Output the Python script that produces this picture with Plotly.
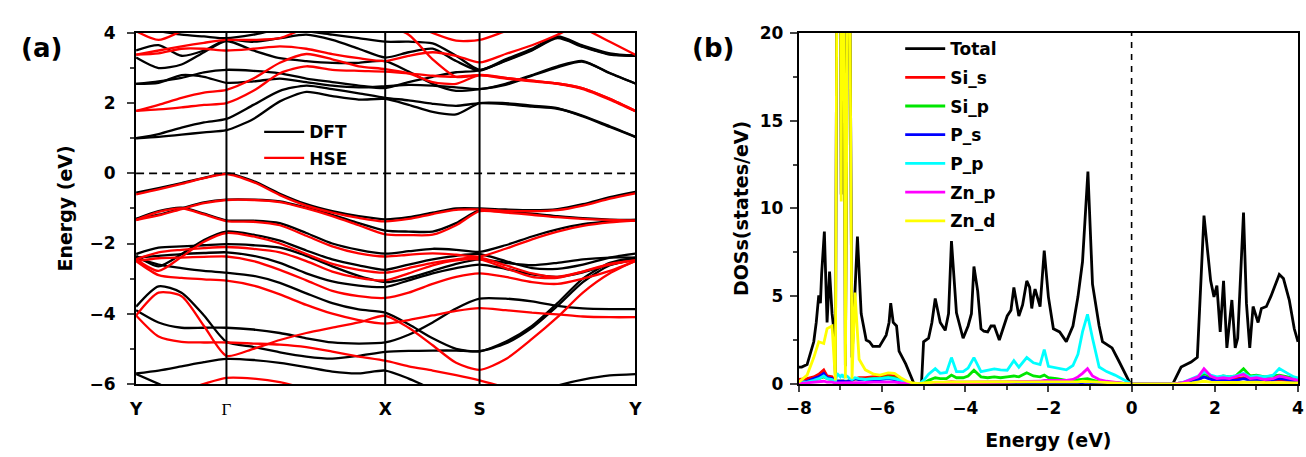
import plotly.graph_objects as go

# ---------------- (a) band structure ----------------
K_LABELS = ["Y", "<span style='font-family:Liberation Serif;font-weight:normal'>Γ</span>", "X", "S", "Y"]
K_NODES = [0.0, 0.181, 0.499, 0.688, 1.0]
K_PATH = [0.000, 0.045, 0.091, 0.136, 0.181,
          0.235, 0.288, 0.341, 0.393, 0.446, 0.499,
          0.546, 0.594, 0.641, 0.688,
          0.740, 0.793, 0.844, 0.895, 0.949, 1.000]

# DFT bands (eV) along Y-Γ-X-S-Y
DFT_V1 = [-0.55, -0.42, -0.28, -0.13, 0.00, -0.22, -0.58, -0.88, -1.08, -1.22, -1.31, -1.25, -1.12, -1.00, -1.00, -1.03, -1.05, -1.02, -0.88, -0.68, -0.53]
DFT_V2 = [-1.30, -1.18, -1.00, -0.83, -0.75, -0.75, -0.80, -0.98, -1.18, -1.42, -1.63, -1.66, -1.66, -1.42, -1.05, -1.10, -1.15, -1.22, -1.28, -1.32, -1.33]
DFT_V3 = [-1.30, -1.08, -0.98, -1.15, -1.34, -1.35, -1.42, -1.70, -2.00, -2.18, -2.29, -2.22, -2.15, -2.18, -2.24, -2.05, -1.80, -1.60, -1.45, -1.37, -1.33]
DFT_V4 = [-2.35, -2.65, -2.30, -1.90, -1.66, -1.75, -1.92, -2.20, -2.45, -2.62, -2.75, -2.60, -2.45, -2.35, -2.30, -2.50, -2.70, -2.72, -2.60, -2.40, -2.29]
DFT_V5 = [-2.30, -2.12, -2.08, -2.05, -2.02, -2.05, -2.12, -2.35, -2.65, -2.92, -3.10, -2.98, -2.78, -2.58, -2.45, -2.55, -2.62, -2.55, -2.45, -2.40, -2.40]
DFT_V6 = [-2.40, -2.35, -2.30, -2.27, -2.25, -2.35, -2.55, -2.85, -3.08, -3.20, -3.24, -3.05, -2.85, -2.70, -2.60, -2.72, -2.88, -2.95, -2.82, -2.60, -2.45]
DFT_V7 = [-2.40, -2.60, -2.70, -2.78, -2.83, -2.92, -3.12, -3.42, -3.70, -3.88, -3.97, -4.30, -4.70, -5.00, -5.07, -4.80, -4.35, -3.70, -3.00, -2.55, -2.40]
DFT_V8 = [-3.80, -3.22, -3.40, -4.05, -4.80, -4.95, -5.10, -5.22, -5.28, -5.20, -5.09, -5.06, -5.05, -5.05, -5.07, -4.85, -4.40, -3.78, -3.10, -2.62, -2.45]
DFT_V9 = [-3.90, -4.25, -4.40, -4.40, -4.40, -4.45, -4.55, -4.70, -4.82, -4.85, -4.82, -4.60, -4.25, -3.85, -3.57, -3.57, -3.65, -3.78, -3.85, -3.87, -3.87]
DFT_V10 = [-5.70, -5.62, -5.50, -5.38, -5.29, -5.32, -5.40, -5.52, -5.65, -5.70, -5.62, -5.85, -6.15, -6.40, -6.50, -6.45, -6.30, -6.05, -5.88, -5.76, -5.72]
DFT_V11 = [-5.72, -6.00, -6.30, -6.50, -6.60, None, None, None, None, None, None, None, None, None, None, None, None, None, None, None, None]
DFT_C1 = [1.00, 1.04, 1.10, 1.17, 1.23, 1.55, 2.05, 2.32, 2.20, 2.10, 2.12, 1.95, 1.75, 1.68, 2.00, 2.00, 1.93, 1.86, 1.62, 1.32, 1.04]
DFT_C2 = [1.00, 1.12, 1.30, 1.45, 1.55, 1.95, 2.35, 2.50, 2.40, 2.28, 2.15, 2.08, 1.98, 1.92, 2.00, 1.97, 1.90, 1.84, 1.64, 1.34, 1.04]
DFT_C3 = [2.55, 2.58, 2.80, 2.75, 2.58, 2.62, 2.70, 2.60, 2.50, 2.45, 2.48, 2.52, 2.50, 2.45, 2.40, 2.55, 2.80, 3.05, 3.20, 2.85, 2.56]
DFT_C4 = [2.55, 2.62, 2.72, 2.88, 2.95, 2.92, 2.85, 2.70, 2.60, 2.50, 2.43, 2.60, 2.75, 2.88, 2.93, 3.20, 3.50, 3.85, 3.60, 3.38, 3.35]
DFT_C5 = [3.30, 3.00, 3.10, 3.45, 3.77, 3.50, 3.28, 3.20, 3.15, 3.15, 3.20, 2.90, 2.55, 2.35, 2.40, 2.52, 2.78, 3.02, 3.18, 2.86, 2.56]
DFT_C6 = [3.50, 3.65, 3.35, 3.50, 3.80, 3.75, 3.85, 3.95, 3.80, 3.55, 3.30, 3.45, 3.55, 3.20, 2.93, 3.22, 3.52, 3.88, 3.62, 3.40, 3.35]
DFT_C7 = [4.10, 4.05, 3.95, 3.90, 3.85, 3.95, 4.10, 4.05, 3.95, 3.85, 3.75, 3.75, 3.70, 3.35, 2.95, 3.25, 3.55, 3.90, 3.64, 3.42, 3.35]

# HSE bands (eV) along Y-Γ-X-S-Y
HSE_V1 = [-0.60, -0.46, -0.30, -0.14, -0.02, -0.25, -0.62, -0.92, -1.12, -1.27, -1.37, -1.30, -1.16, -1.04, -1.03, -1.07, -1.08, -1.05, -0.92, -0.72, -0.57]
HSE_V2 = [-1.33, -1.20, -1.02, -0.85, -0.76, -0.76, -0.82, -1.00, -1.22, -1.48, -1.74, -1.76, -1.75, -1.48, -1.08, -1.12, -1.18, -1.25, -1.30, -1.33, -1.35]
HSE_V3 = [-1.33, -1.10, -1.00, -1.17, -1.36, -1.38, -1.48, -1.78, -2.08, -2.28, -2.37, -2.32, -2.28, -2.32, -2.37, -2.15, -1.88, -1.66, -1.50, -1.40, -1.35]
HSE_V4 = [-2.45, -2.78, -2.38, -1.95, -1.70, -1.80, -2.00, -2.30, -2.58, -2.75, -2.83, -2.70, -2.55, -2.45, -2.40, -2.62, -2.85, -2.95, -2.80, -2.60, -2.48]
HSE_V5 = [-2.45, -2.25, -2.18, -2.13, -2.10, -2.15, -2.25, -2.50, -2.80, -2.98, -3.05, -2.85, -2.62, -2.48, -2.45, -2.70, -2.95, -2.98, -2.80, -2.58, -2.48]
HSE_V6 = [-2.50, -2.42, -2.40, -2.38, -2.37, -2.50, -2.75, -3.05, -3.35, -3.50, -3.55, -3.40, -3.15, -2.95, -2.85, -2.95, -3.10, -3.15, -3.00, -2.78, -2.50]
HSE_V7 = [-2.50, -2.90, -2.98, -3.02, -3.06, -3.20, -3.45, -3.75, -4.00, -4.18, -4.28, -4.18, -4.05, -3.92, -3.84, -3.90, -3.97, -4.02, -4.08, -4.10, -4.10]
HSE_V8 = [-4.05, -3.40, -3.50, -4.35, -5.20, -5.00, -4.75, -4.55, -4.40, -4.25, -4.06, -4.40, -4.90, -5.40, -5.60, -5.30, -4.72, -4.10, -3.40, -2.85, -2.50]
HSE_V9 = [-4.05, -4.65, -4.80, -4.82, -4.82, -4.85, -4.88, -4.95, -5.08, -5.22, -5.34, -5.50, -5.62, -5.75, -5.90, -6.10, -6.30, -6.40, -6.40, -6.40, -6.40]
HSE_V10 = [-6.60, -6.40, -6.20, -6.00, -5.83, -5.85, -5.95, -6.15, -6.40, None, None, None, None, None, None, None, None, None, None, None, None]
HSE_C1 = [1.78, 1.82, 1.88, 1.95, 2.00, 2.35, 2.85, 3.05, 2.95, 2.92, 2.90, 2.85, 2.78, 2.75, 2.80, 2.70, 2.62, 2.55, 2.40, 2.10, 1.77]
HSE_C2 = [1.78, 1.95, 2.15, 2.30, 2.38, 2.70, 3.15, 3.40, 3.25, 3.05, 2.97, 2.85, 2.60, 2.55, 2.80, 2.72, 2.64, 2.56, 2.42, 2.12, 1.78]
HSE_C3 = [3.38, 3.42, 3.55, 3.55, 3.50, 3.55, 3.62, 3.55, 3.40, 3.28, 3.20, 3.35, 3.45, 3.35, 3.16, 3.40, 3.65, 3.95, 4.30, 4.60, 4.80]
HSE_C4 = [3.38, 3.50, 3.62, 3.72, 3.80, 3.80, 3.85, 4.15, 4.35, 4.30, 4.20, 3.95, 3.25, 2.75, 2.80, 2.72, 2.64, 2.56, 2.42, 2.12, 1.78]
HSE_C5 = [4.05, 3.80, 4.05, 4.30, 4.50, 4.60, 4.60, 4.60, 4.60, 4.60, 4.60, 4.30, 4.00, 3.78, 3.80, 4.05, 4.30, 4.60, 4.15, 3.75, 3.38]

DFT_BANDS = [DFT_V1, DFT_V2, DFT_V3, DFT_V4, DFT_V5, DFT_V6, DFT_V7, DFT_V8, DFT_V9,
             DFT_V10, DFT_V11, DFT_C1, DFT_C2, DFT_C3, DFT_C4, DFT_C5, DFT_C6, DFT_C7]
HSE_BANDS = [HSE_V1, HSE_V2, HSE_V3, HSE_V4, HSE_V5, HSE_V6, HSE_V7, HSE_V8, HSE_V9,
             HSE_V10, HSE_C1, HSE_C2, HSE_C3, HSE_C4, HSE_C5]

# ---------------- (b) density of states ----------------
E_TOT = [-8.00, -7.93, -7.80, -7.70, -7.64, -7.58, -7.52, -7.48, -7.45, -7.385,
         -7.32, -7.26, -7.20, -7.16, -7.12, -7.08, -7.00, -6.98, -6.96, -6.92,
         -6.88, -6.82, -6.78, -6.72, -6.59, -6.50, -6.38, -6.30, -6.22, -6.06,
         -5.95, -5.90, -5.83, -5.79, -5.73, -5.65, -5.59, -5.43, -5.23, -5.05,
         -5.00, -4.88, -4.80, -4.72, -4.60, -4.48, -4.40, -4.33, -4.21, -4.05,
         -3.93, -3.85, -3.79, -3.70, -3.62, -3.55, -3.46, -3.38, -3.30, -3.18,
         -2.99, -2.90, -2.83, -2.71, -2.62, -2.52, -2.45, -2.40, -2.36, -2.32,
         -2.20, -2.10, -2.00, -1.88, -1.73, -1.57, -1.41, -1.29, -1.18, -1.05,
         -0.94, -0.78, -0.70, -0.47, -0.31, -0.03, 0.99, 1.19, 1.43, 1.58,
         1.74, 1.90, 1.98, 2.05, 2.13, 2.21, 2.29, 2.41, 2.49, 2.55,
         2.69, 2.76, 2.84, 2.92, 3.04, 3.12, 3.24, 3.35, 3.55, 3.65,
         3.79, 3.91, 4.00]
DOS_TOTAL = [0.96, 0.96, 1.10, 2.00, 2.40, 3.50, 5.05, 4.60, 6.30, 8.68,
             3.50, 6.40, 4.00, 3.15, 0.50, 26.0, 26.0, 10.8, 26.0, 26.0,
             1.00, 26.0, 26.0, 1.50, 8.40, 4.00, 2.50, 2.40, 2.14, 2.14,
             2.60, 2.78, 3.50, 4.60, 3.50, 3.30, 1.87, 1.14, 0.00, 0.00,
             2.40, 2.60, 3.50, 4.87, 3.50, 3.05, 4.00, 8.14, 4.05, 2.60,
             3.30, 4.00, 6.69, 5.30, 3.14, 3.00, 2.96, 3.30, 3.30, 2.50,
             3.87, 4.20, 5.50, 3.87, 4.50, 5.87, 5.50, 4.30, 4.96, 5.40,
             4.40, 7.60, 4.96, 3.14, 2.96, 2.41, 3.30, 4.96, 6.96, 12.10,
             5.68, 3.30, 2.41, 2.05, 1.32, 0.00, 0.00, 0.96, 1.24, 1.51,
             9.59, 5.87, 4.96, 5.60, 2.96, 5.87, 2.05, 4.78, 2.05, 2.60,
             9.77, 4.60, 2.05, 4.41, 3.50, 4.30, 4.41, 5.00, 6.23, 6.00,
             4.78, 3.14, 2.40]

E_PDOS = [-8.00, -7.80, -7.64, -7.52, -7.40, -7.32, -7.20, -7.12, -7.08, -7.00,
          -6.98, -6.96, -6.92, -6.88, -6.82, -6.78, -6.72, -6.65, -6.55, -6.40,
          -6.20, -6.05, -5.85, -5.70, -5.55, -5.40, -5.25, -5.10,
          -5.00, -4.88, -4.72, -4.60, -4.45, -4.33, -4.21, -4.05, -3.93, -3.79,
          -3.62, -3.46, -3.30, -3.15, -2.99, -2.83, -2.71, -2.52, -2.36, -2.20,
          -2.10, -2.00, -1.80, -1.57, -1.41, -1.29, -1.18, -1.06, -0.94, -0.78,
          -0.60, -0.40, -0.20, 0.00, 0.50, 1.00,
          1.20, 1.45, 1.60, 1.74, 1.90, 2.05, 2.20, 2.35, 2.50, 2.69,
          2.85, 3.00, 3.20, 3.40, 3.55, 3.75, 3.90, 4.00]
DOS_SI_S = [0.25, 0.30, 0.40, 0.55, 0.80, 0.45, 0.40, 0.10, 0.15, 0.15,
            0.15, 0.15, 0.15, 0.10, 0.15, 0.15, 0.20, 0.30, 0.35, 0.35,
            0.40, 0.45, 0.50, 0.45, 0.25, 0.10, 0.02, 0.00,
            0.02, 0.05, 0.08, 0.08, 0.10, 0.12, 0.10, 0.10, 0.12, 0.10,
            0.10, 0.10, 0.10, 0.10, 0.12, 0.12, 0.12, 0.12, 0.12, 0.12,
            0.12, 0.12, 0.10, 0.10, 0.12, 0.15, 0.20, 0.20, 0.15, 0.10,
            0.08, 0.05, 0.02, 0.00, 0.00, 0.00,
            0.05, 0.15, 0.25, 0.40, 0.30, 0.25, 0.30, 0.25, 0.30, 0.35,
            0.25, 0.25, 0.20, 0.25, 0.25, 0.20, 0.20, 0.15]
DOS_SI_P = [0.10, 0.12, 0.20, 0.30, 0.40, 0.30, 0.25, 0.10, 0.15, 0.15,
            0.15, 0.15, 0.15, 0.12, 0.15, 0.15, 0.20, 0.30, 0.25, 0.25,
            0.30, 0.30, 0.40, 0.35, 0.20, 0.08, 0.02, 0.00,
            0.05, 0.20, 0.35, 0.30, 0.30, 0.50, 0.35, 0.35, 0.45, 0.78,
            0.40, 0.35, 0.40, 0.35, 0.40, 0.45, 0.40, 0.63, 0.45, 0.40,
            0.50, 0.35, 0.30, 0.20, 0.20, 0.22, 0.25, 0.30, 0.22, 0.12,
            0.08, 0.05, 0.02, 0.00, 0.00, 0.00,
            0.05, 0.20, 0.35, 0.60, 0.40, 0.35, 0.45, 0.40, 0.45, 0.87,
            0.45, 0.50, 0.40, 0.45, 0.50, 0.40, 0.35, 0.30]
DOS_P_S = [0.05, 0.15, 0.30, 0.40, 0.60, 0.35, 0.30, 0.10, 0.15, 0.15,
           0.15, 0.15, 0.15, 0.10, 0.15, 0.15, 0.20, 0.30, 0.25, 0.25,
           0.25, 0.25, 0.30, 0.25, 0.15, 0.05, 0.02, 0.00,
           0.02, 0.03, 0.05, 0.05, 0.05, 0.08, 0.05, 0.05, 0.06, 0.08,
           0.05, 0.05, 0.05, 0.05, 0.05, 0.06, 0.05, 0.06, 0.06, 0.05,
           0.06, 0.05, 0.05, 0.05, 0.05, 0.06, 0.08, 0.10, 0.06, 0.05,
           0.04, 0.03, 0.01, 0.00, 0.00, 0.00,
           0.03, 0.15, 0.25, 0.40, 0.25, 0.20, 0.25, 0.20, 0.20, 0.30,
           0.20, 0.25, 0.20, 0.25, 0.30, 0.25, 0.20, 0.15]
DOS_P_P = [0.05, 0.10, 0.20, 0.30, 0.45, 0.30, 0.25, 0.10, 0.60, 0.40,
           0.45, 0.55, 0.35, 0.50, 0.40, 0.30, 0.25, 0.35, 0.30, 0.25,
           0.30, 0.30, 0.35, 0.30, 0.20, 0.08, 0.02, 0.00,
           0.20, 0.55, 0.87, 0.60, 0.65, 1.50, 0.70, 0.70, 0.90, 1.50,
           0.70, 0.78, 0.85, 0.80, 0.78, 1.32, 0.95, 1.50, 1.20, 1.10,
           1.96, 1.00, 0.90, 0.80, 1.05, 1.69, 2.96, 3.96, 2.60, 0.96,
           0.70, 0.50, 0.25, 0.00, 0.00, 0.00,
           0.05, 0.30, 0.45, 0.69, 0.50, 0.40, 0.45, 0.40, 0.45, 0.60,
           0.40, 0.45, 0.40, 0.50, 0.87, 0.60, 0.40, 0.35]
DOS_ZN_P = [0.02, 0.05, 0.10, 0.12, 0.15, 0.10, 0.10, 0.05, 0.05, 0.05,
            0.05, 0.05, 0.05, 0.05, 0.05, 0.05, 0.05, 0.08, 0.08, 0.08,
            0.10, 0.10, 0.12, 0.10, 0.06, 0.03, 0.01, 0.00,
            0.01, 0.03, 0.05, 0.05, 0.06, 0.08, 0.06, 0.06, 0.08, 0.10,
            0.08, 0.08, 0.10, 0.10, 0.10, 0.12, 0.12, 0.15, 0.15, 0.15,
            0.20, 0.20, 0.18, 0.20, 0.25, 0.40, 0.60, 0.87, 0.45, 0.25,
            0.15, 0.08, 0.03, 0.00, 0.00, 0.00,
            0.05, 0.25, 0.40, 0.87, 0.45, 0.30, 0.35, 0.30, 0.40, 0.55,
            0.30, 0.35, 0.25, 0.30, 0.45, 0.35, 0.25, 0.20]
DOS_ZN_D = [0.10, 0.50, 1.50, 2.40, 2.30, 3.15, 3.30, 0.20, 26.0, 26.0,
            10.4, 26.0, 26.0, 0.30, 26.0, 26.0, 0.30, 5.20, 1.40, 0.80,
            0.55, 0.50, 0.63, 0.60, 0.35, 0.15, 0.05, 0.02,
            0.05, 0.08, 0.10, 0.10, 0.10, 0.12, 0.10, 0.10, 0.12, 0.12,
            0.10, 0.10, 0.10, 0.10, 0.10, 0.12, 0.10, 0.12, 0.12, 0.12,
            0.12, 0.12, 0.10, 0.10, 0.10, 0.12, 0.15, 0.15, 0.12, 0.10,
            0.08, 0.05, 0.03, 0.00, 0.00, 0.00,
            0.02, 0.05, 0.08, 0.15, 0.10, 0.08, 0.10, 0.08, 0.08, 0.10,
            0.08, 0.10, 0.08, 0.08, 0.10, 0.08, 0.08, 0.06]

PDOS_NAMES = ["Si_s", "Si_p", "P_s", "P_p", "Zn_p", "Zn_d"]
PDOS_VALUES = [DOS_SI_S, DOS_SI_P, DOS_P_S, DOS_P_P, DOS_ZN_P, DOS_ZN_D]
PDOS_COLORS = ["#ff0000", "#00e600", "#0000ff", "#00ffff", "#ff00ff", "#ffff00"]

FONT = "DejaVu Sans"
W, H = 1306, 457
TOP, BOTTOM = 24, 391
YDOM = [1 - BOTTOM / H, 1 - TOP / H]

fig = go.Figure()

for i, band in enumerate(DFT_BANDS):
    fig.add_trace(go.Scatter(
        x=K_PATH, y=band, mode="lines", name="DFT",
        line=dict(color="black", width=2.3, shape="spline", smoothing=0.7),
        showlegend=(i == 0), legend="legend", legendgroup="dft",
        xaxis="x", yaxis="y"))
for i, band in enumerate(HSE_BANDS):
    fig.add_trace(go.Scatter(
        x=K_PATH, y=band, mode="lines", name="HSE",
        line=dict(color="#ff0000", width=2.3, shape="spline", smoothing=0.7),
        showlegend=(i == 0), legend="legend", legendgroup="hse",
        xaxis="x", yaxis="y"))

fig.add_trace(go.Scatter(
    x=E_TOT, y=DOS_TOTAL, mode="lines", name="Total",
    line=dict(color="black", width=2.8),
    legend="legend2", legendgroup="total", xaxis="x2", yaxis="y2"))
for name, vals, col in zip(PDOS_NAMES, PDOS_VALUES, PDOS_COLORS):
    fig.add_trace(go.Scatter(
        x=E_PDOS, y=vals, mode="lines", name=name,
        line=dict(color=col, width=2.8),
        legend="legend2", legendgroup=name, xaxis="x2", yaxis="y2"))

tick_font = dict(family=FONT, size=17, color="black", weight="bold")
title_font = dict(family=FONT, size=19, color="black", weight="bold")
legend_font = dict(family=FONT, size=17, color="black", weight="bold")

axis_common = dict(showline=True, linewidth=2, linecolor="black", mirror=True,
                   showgrid=False, zeroline=False, tickfont=tick_font)

fig.update_layout(
    width=W, height=H,
    margin=dict(l=0, r=0, t=0, b=0),
    paper_bgcolor="white", plot_bgcolor="white",
    xaxis=dict(domain=[125 / W, 632 / W], range=[0, 1], anchor="y",
               tickvals=K_NODES, ticktext=K_LABELS, ticks="", ticklabelstandoff=9,
               **axis_common),
    yaxis=dict(domain=YDOM, range=[-6, 4], anchor="x", dtick=2,
               ticks="outside", ticklen=7, tickwidth=2, ticklabelstandoff=8,
               minor=dict(dtick=1, ticks="outside", ticklen=4, tickwidth=2),
               title=dict(text="Energy (eV)", font=title_font, standoff=12),
               **axis_common),
    xaxis2=dict(domain=[798 / W, 1305 / W], range=[-8, 4], anchor="y2", dtick=2,
                ticks="outside", ticklen=6, tickwidth=2, ticklabelstandoff=2,
                minor=dict(dtick=1, ticks="outside", ticklen=4, tickwidth=2),
                title=dict(text="Energy (eV)", font=title_font, standoff=16),
                **axis_common),
    yaxis2=dict(domain=YDOM, range=[0, 20], anchor="x2", dtick=5,
                ticks="outside", ticklen=7, tickwidth=2, ticklabelstandoff=3,
                minor=dict(dtick=2.5, ticks="outside", ticklen=4, tickwidth=2),
                title=dict(text="DOSs(states/eV)", font=title_font, standoff=6),
                **axis_common),
    legend=dict(x=250 / W, y=1 - 109 / H, xanchor="left", yanchor="top",
                bgcolor="rgba(0,0,0,0)", font=legend_font,
                itemwidth=40, tracegroupgap=1),
    legend2=dict(x=901 / W, y=1 - 22 / H, xanchor="left", yanchor="top",
                 bgcolor="rgba(0,0,0,0)", font=legend_font,
                 itemwidth=40, tracegroupgap=3.6),
    showlegend=True,
)

# high-symmetry verticals and Fermi level in (a)
for kx in K_NODES[1:4]:
    fig.add_shape(type="line", xref="x", yref="y domain", x0=kx, x1=kx, y0=0, y1=1,
                  line=dict(color="black", width=2))
fig.add_shape(type="line", xref="x domain", yref="y", x0=0, x1=1, y0=0, y1=0,
              line=dict(color="black", width=1.6, dash="8px,5px"))
# Fermi level in (b)
fig.add_shape(type="line", xref="x2", yref="y2 domain", x0=0, x1=0, y0=0, y1=1,
              line=dict(color="black", width=1.6, dash="6px,6px"))

fig.add_annotation(text="(a)", xref="paper", yref="paper", x=29 / W, y=1 - 40 / H,
                   xanchor="center", yanchor="middle", showarrow=False,
                   font=dict(family=FONT, size=26, color="black", weight="bold"))
fig.add_annotation(text="(b)", xref="paper", yref="paper", x=711 / W, y=1 - 40 / H,
                   xanchor="center", yanchor="middle", showarrow=False,
                   font=dict(family=FONT, size=26, color="black", weight="bold"))

fig.write_html("out.html")
